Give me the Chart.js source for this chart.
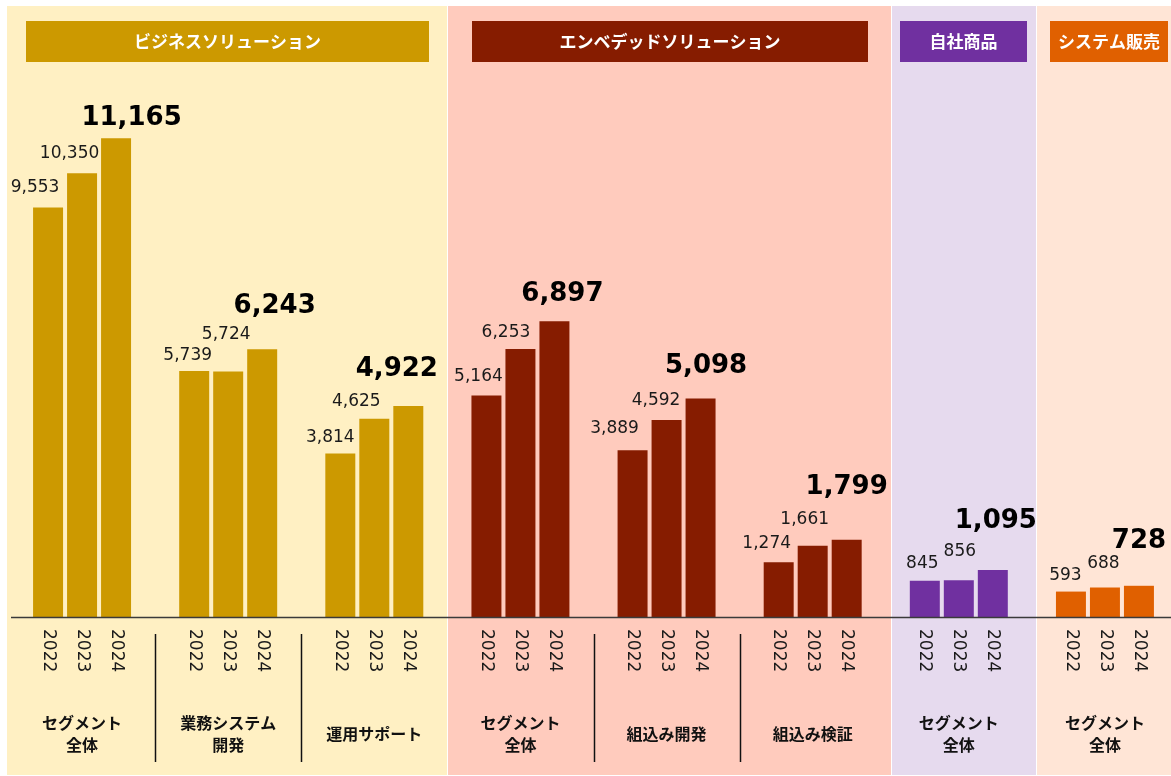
<!DOCTYPE html>
<html lang="ja">
<head>
<meta charset="utf-8">
<script src="https://cdn.jsdelivr.net/npm/chart.js@4.4.1/dist/chart.umd.min.js"></script>
<style>
  html, body { margin: 0; padding: 0; background: #fff; overflow: hidden; }
  .wrap { position: relative; width: 1180px; height: 776px; }
</style>
</head>
<body>
<div class="wrap"><canvas id="chart"></canvas></div>
<script>
// categories (bottom labels) and years
const groups = [
  ["セグメント", "全体"], ["業務システム", "開発"], "運用サポート",
  ["セグメント", "全体"], "組込み開発", "組込み検証",
  ["セグメント", "全体"], ["セグメント", "全体"]
];
const years = ["2022", "2023", "2024"];

// values per year
const values2022 = [9553, 5739, 3814, 5164, 3889, 1274, 845, 593];
const values2023 = [10350, 5724, 4625, 6253, 4592, 1661, 856, 688];
const values2024 = [11165, 6243, 4922, 6897, 5098, 1799, 1095, 728];

// segment headers
const segments = ["ビジネスソリューション", "エンベデッドソリューション", "自社商品", "システム販売"];
const segmentOf = [0, 0, 0, 1, 1, 1, 2, 3];

const segColors = ["#CC9900", "#861C00", "#7030A0", "#E06000"];
const bandColors = ["#FFF0C3", "#FFCBBD", "#E6DAEE", "#FFE5D6"];
// band and header box extents in px
const bands = [[7, 447], [448, 891], [892, 1036], [1037, 1171]];
const heads = [[26, 429], [472, 868], [900, 1027], [1050, 1168]];

// value label nudges (px) relative to bar center / bar top
const labelDx = [
  [-13, -6.5, -10, -8, -18, -12, -2.5, -5.5],
  [-12.5, -2, -18, -14.5, -10.5, -8, 1, -1.5],
  [15.5, 12.5, -11.5, 8, 5.5, 0, 3, 0]
];
const labelDy = [
  [-20, -15, -16, -19, -22, -19, -17, -16],
  [-20, -37, -17, -16, -20, -26, -29, -24],
  [-20, -43, -37, -27, -32, -53, -49, -45]
];

const barColors = segmentOf.map(s => segColors[s]);
const fmt = v => v.toLocaleString("en-US");

const decor = {
  id: "decor",
  beforeDraw(chart) {
    const { ctx } = chart;
    ctx.save();
    ctx.fillStyle = "#fff";
    ctx.fillRect(0, 0, chart.width, chart.height);
    bands.forEach((b, i) => {
      ctx.fillStyle = bandColors[i];
      ctx.fillRect(b[0], 6, b[1] - b[0], 769);
    });
    heads.forEach((h, i) => {
      ctx.fillStyle = segColors[i];
      ctx.fillRect(h[0], 21, h[1] - h[0], 41);
      ctx.fillStyle = "#fff";
      ctx.font = "bold 17px 'Noto Sans CJK JP'";
      ctx.textAlign = "center";
      ctx.textBaseline = "middle";
      ctx.fillText(segments[i], (h[0] + h[1]) / 2, 42);
    });
    ctx.restore();
  },
  afterDatasetsDraw(chart) {
    const { ctx } = chart;
    const x = chart.scales.x;
    ctx.save();
    // value labels
    chart.data.datasets.forEach((ds, i) => {
      const meta = chart.getDatasetMeta(i);
      meta.data.forEach((bar, j) => {
        ctx.fillStyle = i === 2 ? "#000" : "#1a1a1a";
        ctx.font = i === 2 ? "bold 26px 'DejaVu Sans'" : "17px 'DejaVu Sans'";
        ctx.textAlign = "center";
        ctx.textBaseline = "middle";
        ctx.fillText(fmt(ds.data[j]), bar.x + labelDx[i][j], bar.y + labelDy[i][j]);
        // year under each bar
        ctx.save();
        ctx.translate(bar.x, 629);
        ctx.rotate(Math.PI / 2);
        ctx.font = "17px 'DejaVu Sans'";
        ctx.fillStyle = "#1a1a1a";
        ctx.textAlign = "left";
        ctx.fillText(years[i], 0, 0);
        ctx.restore();
      });
    });
    // separators between sub-categories of the same segment
    ctx.strokeStyle = "#111";
    ctx.lineWidth = 1.5;
    for (let k = 0; k < groups.length - 1; k++) {
      if (segmentOf[k] !== segmentOf[k + 1]) continue;
      const px = Math.round(x.getPixelForValue(k + 0.5)) + 0.5;
      ctx.beginPath();
      ctx.moveTo(px, 634);
      ctx.lineTo(px, 762);
      ctx.stroke();
    }
    // baseline across the full width
    ctx.strokeStyle = "#3a3a3a";
    ctx.beginPath();
    ctx.moveTo(11, x.top + 0.5);
    ctx.lineTo(1171, x.top + 0.5);
    ctx.stroke();
    ctx.restore();
  }
};

new Chart(document.getElementById("chart"), {
  type: "bar",
  data: {
    labels: groups,
    datasets: [
      { label: years[0], data: values2022, backgroundColor: barColors },
      { label: years[1], data: values2023, backgroundColor: barColors },
      { label: years[2], data: values2024, backgroundColor: barColors }
    ]
  },
  options: {
    responsive: true,
    maintainAspectRatio: false,
    animation: false,
    categoryPercentage: 0.698,
    barPercentage: 0.882,
    layout: { padding: { left: 9, right: 2, top: 6, bottom: 0 } },
    plugins: {
      legend: { display: false },
      tooltip: { enabled: false }
    },
    scales: {
      x: {
        grid: { display: false, drawTicks: false },
        border: { display: false },
        ticks: {
          autoSkip: false,
          maxRotation: 0,
          minRotation: 0,
          padding: 106,
          crossAlign: "center",
          color: "#111",
          font: { family: "'Noto Sans CJK JP'", size: 16, weight: "bold", lineHeight: 1.375 }
        },
        afterFit: s => {
          s.height = 159;
          s.paddingLeft = 0;
          s.paddingRight = 0;
        }
      },
      y: {
        display: false,
        min: 0,
        max: 14250
      }
    }
  },
  plugins: [decor]
});
</script>
</body>
</html>
